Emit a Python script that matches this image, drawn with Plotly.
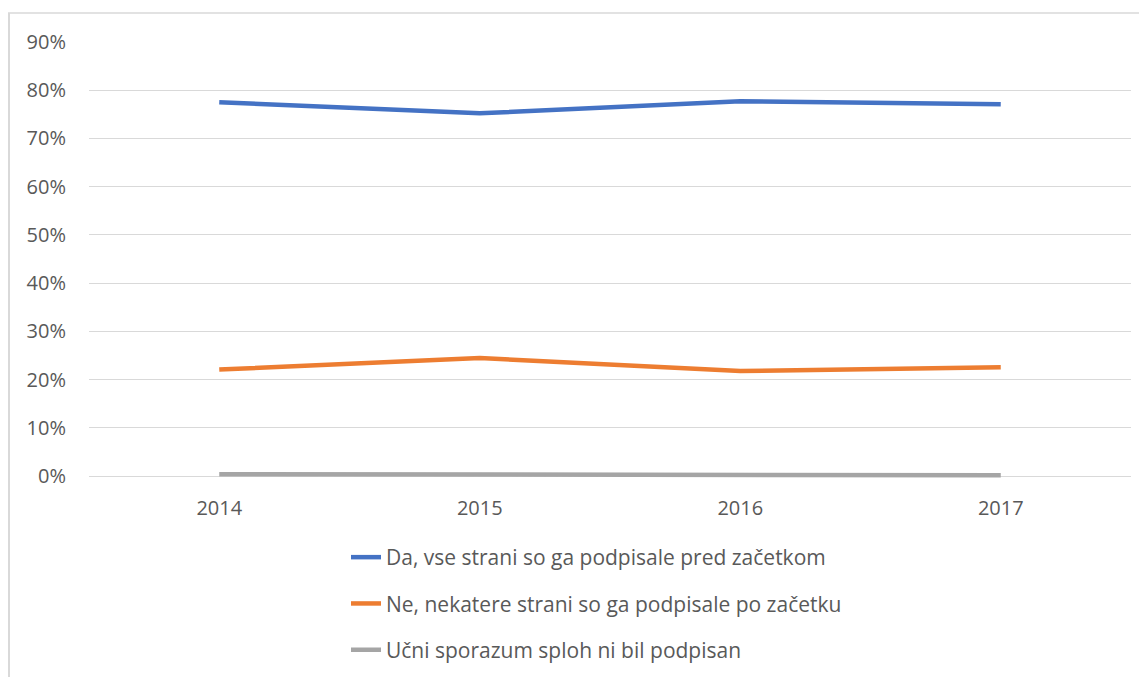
import plotly.graph_objects as go

# data
years = ["2014", "2015", "2016", "2017"]
da_vse = [0.775, 0.752, 0.777, 0.771]
ne_nekatere = [0.221, 0.245, 0.218, 0.226]
ni_podpisan = [0.004, 0.003, 0.003, 0.002]

series_names = [
    "Da, vse strani so ga podpisale pred začetkom",
    "Ne, nekatere strani so ga podpisale po začetku",
    "Učni sporazum sploh ni bil podpisan",
]
series_values = [da_vse, ne_nekatere, ni_podpisan]
series_colors = ["#4472C4", "#ED7D31", "#A5A5A5"]

# page has an 8px body margin, so the figure is a bit smaller than the window
OFF = 8
W, H = 1139, 669
L, R, T, B = 81, 16, 33, 196
pw, ph = W - L - R, H - T - B

def px_x(x):
    # page pixel -> paper coordinate
    return (x - OFF - L) / pw

def px_y(y):
    return (H - B - (y - OFF)) / ph

fig = go.Figure()
for i, (name, vals, col) in enumerate(zip(series_names, series_values, series_colors)):
    fig.add_trace(go.Scatter(
        x=years, y=vals, name=name, mode="lines",
        line=dict(color=col, width=4.5),
        legendgroup=f"g{i}",
    ))

fig.update_layout(
    width=W, height=H,
    margin=dict(l=L, r=R, t=T, b=B, autoexpand=False),
    paper_bgcolor="white", plot_bgcolor="white",
    font=dict(family="Open Sans, Calibri, sans-serif", size=20, color="#595959"),
    showlegend=True,
    legend=dict(
        x=px_x(346), y=px_y(537), xanchor="left", yanchor="top",
        orientation="v", tracegroupgap=16,
        font=dict(size=21, color="#595959"),
        bgcolor="rgba(0,0,0,0)",
    ),
)

fig.update_xaxes(
    type="category", range=[-0.5, 3.5], showgrid=False, zeroline=False, showline=False,
    ticks="outside", ticklen=9, tickcolor="white",
    tickfont=dict(size=20, color="#595959"),
)
fig.update_yaxes(
    range=[-0.01, 0.902], tickvals=[0, 0.1, 0.2, 0.3, 0.4, 0.5, 0.6, 0.7, 0.8, 0.9],
    tickformat=".0%", showgrid=True, gridcolor="#D9D9D9", gridwidth=1.3,
    zeroline=False, showline=False, ticks="",
    ticklabelstandoff=22,
    tickfont=dict(size=20, color="#595959"),
)

# chart border (visible on top and left in the reference)
fig.add_shape(type="line", xref="paper", yref="paper",
              x0=px_x(8), x1=px_x(W + 20), y0=px_y(13), y1=px_y(13),
              line=dict(color="#D9D9D9", width=1.5))
fig.add_shape(type="line", xref="paper", yref="paper",
              x0=px_x(9), x1=px_x(9), y0=px_y(13), y1=px_y(H + 20),
              line=dict(color="#D9D9D9", width=2))

fig.write_html("out.html")
